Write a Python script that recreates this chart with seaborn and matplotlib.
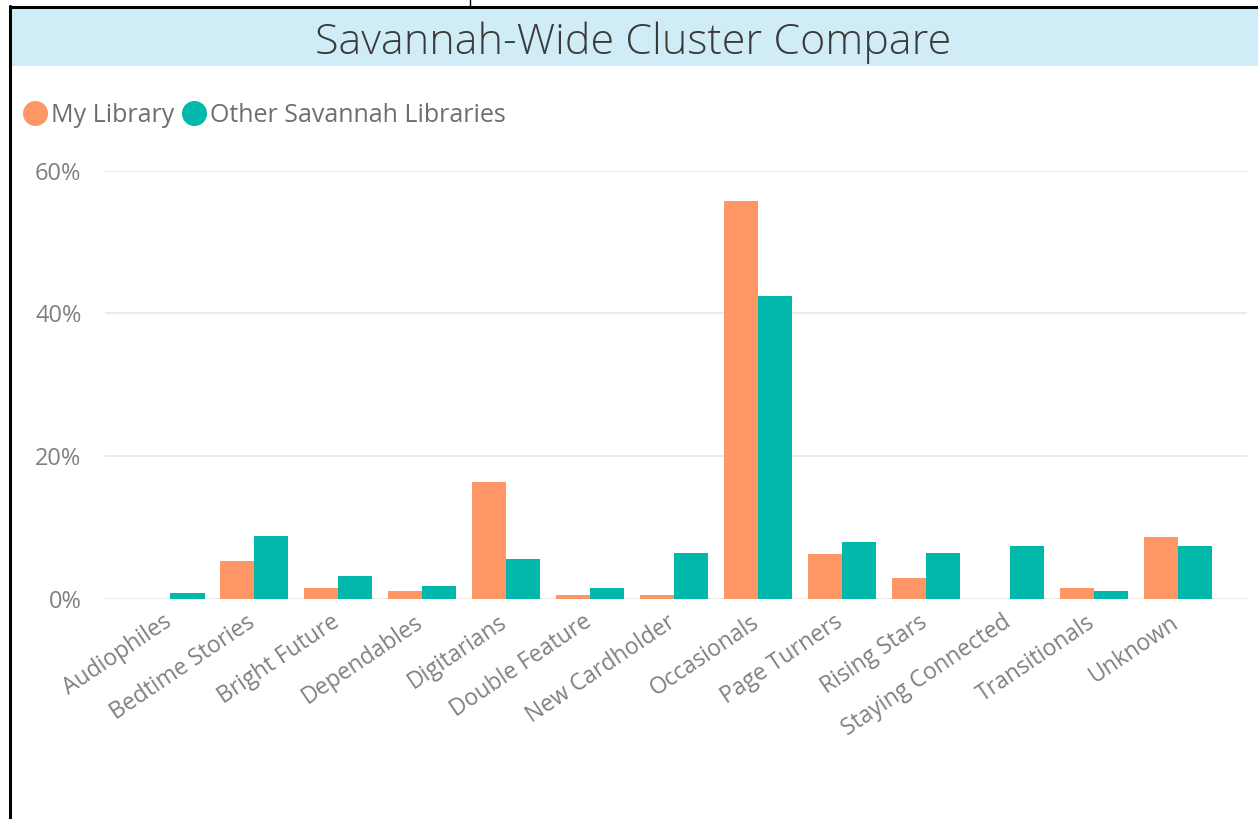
import matplotlib
matplotlib.use("Agg")
import matplotlib.pyplot as plt
import matplotlib.transforms as mtransforms
import seaborn as sns
import pandas as pd
from matplotlib.lines import Line2D
from matplotlib.patches import Rectangle
from matplotlib.ticker import FuncFormatter

categories = ["Audiophiles", "Bedtime Stories", "Bright Future", "Dependables",
              "Digitarians", "Double Feature", "New Cardholder", "Occasionals",
              "Page Turners", "Rising Stars", "Staying Connected", "Transitionals",
              "Unknown"]
my_library = [0.0, 5.3, 1.5, 1.1, 16.3, 0.5, 0.5, 55.8, 6.2, 2.9, 0.0, 1.5, 8.7]
other_libraries = [0.8, 8.8, 3.1, 1.8, 5.5, 1.5, 6.4, 42.5, 8.0, 6.4, 7.3, 1.0, 7.4]
series_names = ["My Library", "Other Savannah Libraries"]
colors = ["#FE9666", "#01B8AA"]
yticks = [0, 20, 40, 60]

sns.set_theme(style="white")
plt.rcParams['font.family'] = ['Open Sans', 'DejaVu Sans']

df = pd.DataFrame({
    "category": categories * 2,
    "value": my_library + other_libraries,
    "series": [series_names[0]] * len(categories) + [series_names[1]] * len(categories),
})

fig = plt.figure(figsize=(12.58, 8.19), dpi=100)
W, H = 1258, 819
ax = fig.add_axes([105 / W, 1 - 598.5 / H, (1247 - 105) / W, (598.5 - 171) / H])

sns.barplot(data=df, x="category", y="value", hue="series", order=categories,
            hue_order=series_names, palette=colors, width=0.81, ax=ax,
            saturation=1, legend=False, linewidth=0)

ax.set_ylim(0, 60)
ax.set_xlim(-0.78, len(categories) - 1 + 0.82)
ax.set_yticks(yticks)
ax.yaxis.set_major_formatter(FuncFormatter(lambda v, p: f"{v:.0f}%"))
ax.grid(axis="y", color="#EBEBEB", linewidth=1.5)
ax.set_axisbelow(True)
for s in ax.spines.values():
    s.set_visible(False)
ax.set_xlabel("")
ax.set_ylabel("")
ax.tick_params(axis="y", length=0, pad=17, labelsize=17, labelcolor="#808080")
ax.tick_params(axis="x", length=0, pad=7, labelsize=16.5, labelcolor="#808080")
offset = mtransforms.ScaledTranslation(-8 / 100, -2 / 100, fig.dpi_scale_trans)
for lbl in ax.get_xticklabels():
    lbl.set_rotation(34)
    lbl.set_ha("right")
    lbl.set_rotation_mode("anchor")
    lbl.set_transform(lbl.get_transform() + offset)

# title band
fig.add_artist(Rectangle((11 / W, 1 - 66 / H), (W - 11) / W, 58 / H,
                         transform=fig.transFigure, facecolor="#D0EDF7",
                         edgecolor="none"))
fig.text(633 / W, 1 - 43 / H, "Savannah-Wide Cluster Compare", ha="center",
         va="center", fontsize=31, color="#3A3A3A", fontweight="light")

# frame lines
fig.add_artist(Line2D([10 / W, 10 / W], [0, 1 - 6 / H], transform=fig.transFigure,
                      color="black", linewidth=2.2))
fig.add_artist(Line2D([10 / W, 1], [1 - 7 / H, 1 - 7 / H], transform=fig.transFigure,
                      color="black", linewidth=2.2))
fig.add_artist(Line2D([470 / W, 470 / W], [1 - 7 / H, 1], transform=fig.transFigure,
                      color="black", linewidth=1))

# legend
handles = [Line2D([], [], marker="o", linestyle="none", markersize=17,
                  markerfacecolor=c, markeredgecolor=c) for c in colors]
leg = fig.legend(handles, series_names, loc="center left",
                 bbox_to_anchor=(22 / W, 1 - 115 / H), ncol=2, frameon=False,
                 handletextpad=0.15, columnspacing=0.3, handlelength=1.0,
                 borderaxespad=0, borderpad=0, fontsize=18)
for t in leg.get_texts():
    t.set_color("#6E6E6E")

fig.savefig("out.png", dpi=100)
